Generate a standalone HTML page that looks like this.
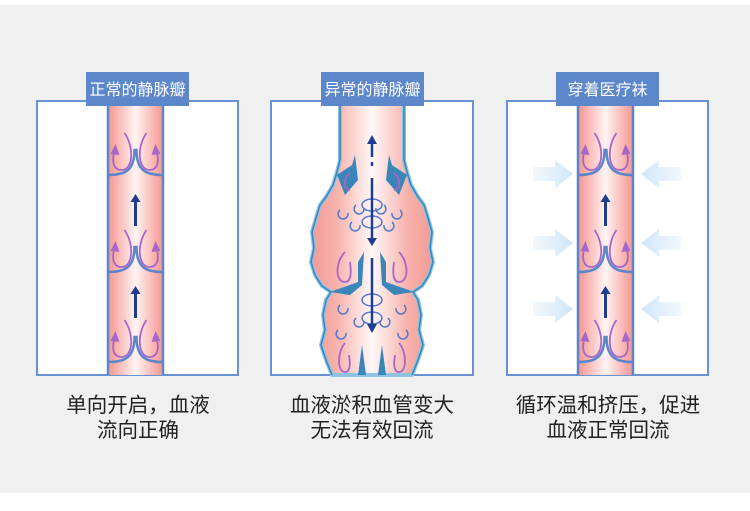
<!DOCTYPE html>
<html><head><meta charset="utf-8"><style>
html,body{margin:0;padding:0;background:#fff;}
.wrap{position:relative;width:750px;height:511px;overflow:hidden;background:#fff;}
.bg{position:absolute;left:0;top:5px;width:750px;height:488px;background:#f0f0f0;}
.cap{position:absolute;top:393px;width:240px;text-align:center;font-family:"Liberation Sans","Noto Sans CJK SC",sans-serif;font-size:20.5px;line-height:25px;color:#222;}
</style></head><body><div class="wrap"><div class="bg"></div>
<svg width="750" height="511" style="position:absolute;left:0;top:0" font-family="Liberation Sans,Noto Sans CJK SC,sans-serif">
<defs>
<linearGradient id="tg" x1="0" x2="1" y1="0" y2="0">
<stop offset="0" stop-color="#f5958f"/><stop offset="0.5" stop-color="#fff4f4"/><stop offset="1" stop-color="#f5958f"/></linearGradient>
<linearGradient id="bg2" x1="0" x2="1" y1="0" y2="0">
<stop offset="0" stop-color="#f39a95"/><stop offset="0.2" stop-color="#f7b0aa"/><stop offset="0.5" stop-color="#fff8f8"/><stop offset="0.8" stop-color="#f7b0aa"/><stop offset="1" stop-color="#f39a95"/></linearGradient>
<linearGradient id="al" x1="0" x2="1"><stop offset="0" stop-color="#d3e9fa" stop-opacity="0.3"/><stop offset="1" stop-color="#cfe6f9"/></linearGradient>
<linearGradient id="ar" x1="1" x2="0"><stop offset="0" stop-color="#d3e9fa" stop-opacity="0.3"/><stop offset="1" stop-color="#cfe6f9"/></linearGradient>
<g id="valve">
<path d="M-27,0 C-10,0 -1,-5 -1,-25 L1,-25 C1,-5 10,0 27,0" fill="none" stroke="#5b86cc" stroke-width="2.5"/>
<path d="M-11,-42 C-1,-28 -2,-4 -15,-5 C-24,-6 -23,-17 -21,-24" fill="none" stroke="#a866c8" stroke-width="1.8"/>
<path d="M-25,-21 L-20,-31 L-16,-20 Z" fill="#a866c8"/>
<path d="M11,-42 C1,-28 2,-4 15,-5 C24,-6 23,-17 21,-24" fill="none" stroke="#a866c8" stroke-width="1.8"/>
<path d="M25,-21 L20,-31 L16,-20 Z" fill="#a866c8"/>
</g>
<g id="up"><rect x="-1.5" y="5" width="3" height="26" fill="#1e3d8f"/><path d="M-5,7 L0,-1 L5,7Z" fill="#1e3d8f"/></g>
<g id="tube">
<rect x="108" y="101" width="55" height="274" fill="url(#tg)"/>
<line x1="108" y1="101" x2="108" y2="375" stroke="#5b86cc" stroke-width="2.5"/>
<line x1="163" y1="101" x2="163" y2="375" stroke="#5b86cc" stroke-width="2.5"/>
<use href="#valve" x="135.5" y="175"/><use href="#valve" x="135.5" y="272"/><use href="#valve" x="135.5" y="362"/>
<use href="#up" x="135.5" y="195"/><use href="#up" x="135.5" y="287"/>
</g>
</defs>
<rect x="37" y="101" width="201" height="274" fill="#fff" stroke="#6892d4" stroke-width="2"/>
<use href="#tube"/>
<rect x="86" y="72" width="103" height="34" fill="#5c87cb"/>
<text x="137.5" y="95" font-size="16" fill="#fff" text-anchor="middle">正常的静脉瓣</text>
<rect x="507" y="101" width="201" height="274" fill="#fff" stroke="#6892d4" stroke-width="2"/>
<use href="#tube" x="470"/>
<g id="la"><path d="M533,167 L555,167 L555,160 L573,174 L555,188 L555,181 L533,181Z" fill="url(#al)"/></g>
<use href="#la" y="69"/><use href="#la" y="135"/>
<g id="ra"><path d="M681,167 L659,167 L659,160 L641,174 L659,188 L659,181 L681,181Z" fill="url(#ar)"/></g>
<use href="#ra" y="69"/><use href="#ra" y="135"/>
<rect x="556" y="72" width="103" height="34" fill="#5c87cb"/>
<text x="607.5" y="95" font-size="16" fill="#fff" text-anchor="middle">穿着医疗袜</text>
<rect x="271" y="101" width="202" height="274" fill="#fff" stroke="#6892d4" stroke-width="2"/>
<path d="M340,101 L340,160 L337,172 L333,185 L326,197 L320,205 L316,218 L312,232 L314,248 L311,262 L315,275 L322,286 L331,292 L326,300 L323,315 L325,330 L321,345 L326,360 L332,375 L412,375 L418,360 L423,345 L419,330 L421,315 L418,300 L413,292 L422,286 L429,275 L433,262 L430,248 L432,232 L428,218 L424,205 L418,197 L411,185 L407,172 L404,160 L404,101Z" fill="url(#bg2)" stroke="#8fc3e6" stroke-width="4" stroke-linejoin="round"/>
<path d="M340,101 L340,160 L337,172 L333,185 L326,197 L320,205 L316,218 L312,232 L314,248 L311,262 L315,275 L322,286 L331,292 L326,300 L323,315 L325,330 L321,345 L326,360 L332,375 M412,375 L418,360 L423,345 L419,330 L421,315 L418,300 L413,292 L422,286 L429,275 L433,262 L430,248 L432,232 L428,218 L424,205 L418,197 L411,185 L407,172 L404,160 L404,101" fill="none" stroke="#3a86b8" stroke-width="1.5"/>
<g fill="#3a86b8">
<path d="M330,292 L358,282 L358,262 L364,252 L362,285 L350,295Z"/>
<path d="M414,292 L386,282 L386,262 L380,252 L382,285 L394,295Z"/>
<path d="M337,175 L352,165 L355,155 L358,180 L345,195Z"/>
<path d="M407,175 L392,165 L389,155 L386,180 L399,195Z"/>
<path d="M358,375 L362,345 L366,375Z"/><path d="M386,375 L382,345 L378,375Z"/>
</g>
<g fill="none" stroke="#a866c8" stroke-width="1.8">
<path d="M350,173 C343,178 343,190 350,190"/><path d="M394,173 C401,178 401,190 394,190"/>
<path d="M345,252 C335,262 335,282 345,282 C352,282 351,270 350,262"/><path d="M399,252 C409,262 409,282 399,282 C392,282 393,270 394,262"/>
<path d="M345,343 C337,352 337,372 345,372 C351,372 350,362 349,355"/><path d="M399,343 C407,352 407,372 399,372 C393,372 394,362 395,355"/>
</g>
<g fill="none" stroke="#5577cc" stroke-width="1.5">
<path d="M340,210 a5,5 0 1,0 8,3"/><path d="M356,205 a5,5 0 1,0 8,3"/><path d="M352,222 a5,5 0 1,0 8,3"/><path d="M384,205 a5,5 0 1,1 -8,3"/><path d="M400,210 a5,5 0 1,1 -8,3"/><path d="M392,222 a5,5 0 1,1 -8,3"/>
<ellipse cx="372" cy="205" rx="10" ry="6"/><ellipse cx="372" cy="222" rx="10" ry="6"/>
<path d="M340,305 a5,5 0 1,0 8,3"/><path d="M356,318 a5,5 0 1,0 8,3"/><path d="M338,330 a5,5 0 1,0 8,3"/><path d="M404,305 a5,5 0 1,1 -8,3"/><path d="M388,318 a5,5 0 1,1 -8,3"/><path d="M406,330 a5,5 0 1,1 -8,3"/>
<ellipse cx="372" cy="300" rx="10" ry="6"/><ellipse cx="372" cy="318" rx="10" ry="6"/>
</g>
<g stroke="#1e3d8f" stroke-width="2.5" fill="#1e3d8f">
<line x1="372" y1="143" x2="372" y2="157"/><line x1="372" y1="162" x2="372" y2="166"/><line x1="372" y1="178" x2="372" y2="238"/><line x1="372" y1="258" x2="372" y2="325"/>
<path d="M367,144 L372,135 L377,144Z" stroke="none"/><path d="M367,238 L372,246 L377,238Z" stroke="none"/><path d="M367,324 L372,333 L377,324Z" stroke="none"/>
</g>
<rect x="321" y="72" width="103" height="34" fill="#5c87cb"/>
<text x="372.5" y="95" font-size="16" fill="#fff" text-anchor="middle">异常的静脉瓣</text>
</svg>
<div class="cap" style="left:18px">单向开启，血液<br>流向正确</div>
<div class="cap" style="left:252px">血液淤积血管变大<br>无法有效回流</div>
<div class="cap" style="left:488px">循环温和挤压，促进<br>血液正常回流</div>
</div></body></html>
